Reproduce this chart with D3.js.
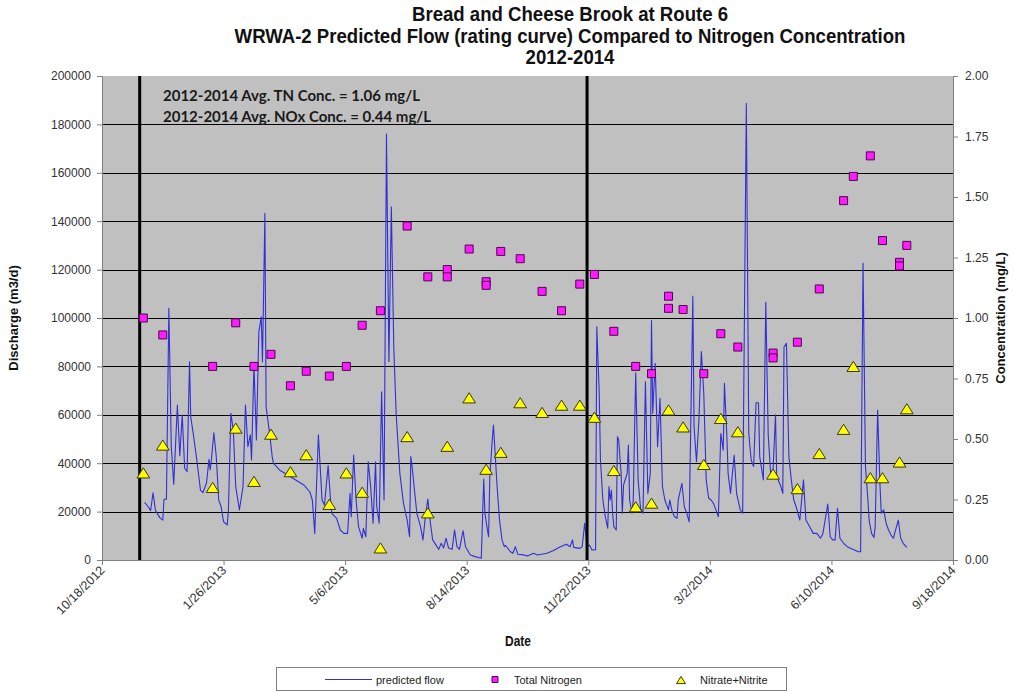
<!DOCTYPE html>
<html>
<head>
<meta charset="utf-8">
<script src="https://cdn.jsdelivr.net/npm/d3@7"></script>
<style>
  body { margin: 0; background: #fff; }
  svg { display: block; font-family: "Liberation Sans", Arial, sans-serif; }
</style>
</head>
<body>
<svg id="chart" width="1013" height="692"></svg>
<script>
// Dates are spreadsheet serial numbers (days since 12/30/1899).
const xTickSerials = [41200, 41300, 41400, 41500, 41600, 41700, 41800, 41900];
const dischargeTicks = [0, 20000, 40000, 60000, 80000, 100000, 120000, 140000, 160000, 180000, 200000];
const concTicks = [0, 0.25, 0.5, 0.75, 1.0, 1.25, 1.5, 1.75, 2.0];

// Start of each sampling year
const periodMarkers = [41231, 41599];

// Predicted flow (rating curve), m3/d
const flowSerial = [
  41235,41238,41240,41242,41244,41248,41250,41251,41253,41255,41257,41259,41262,41264,41266,41268,41270,41272,41273,41275,
  41278,41281,41283,41286,41288,41289,41290,41292,41294,41296,41298,41300,41303,41304,41306,41308,41310,41313,41316,41318,
  41320,41322,41323,41325,41327,41329,41331,41332,41334,41335,41338,41340,41341,41346,41355,41366,41371,41373,41375,41378,
  41381,41383,41386,41388,41389,41393,41396,41399,41402,41404,41405,41407,41409,41411,41414,41415,41417,41419,41421,41423,
  41425,41426,41428,41430,41432,41434,41436,41438,41440,41442,41445,41448,41451,41453,41454,41455,41457,41459,41462,41464,
  41466,41468,41470,41472,41477,41479,41481,41483,41485,41488,41490,41492,41494,41497,41499,41503,41507,41512,41514,41515,
  41517,41518,41519,41521,41522,41525,41527,41529,41531,41532,41536,41538,41540,41542,41547,41550,41555,41558,41566,41571,
  41577,41582,41585,41587,41588,41593,41595,41597,41599,41601,41603,41606,41607,41609,41610,41612,41614,41616,41617,41618,
  41619,41620,41621,41623,41624,41625,41627,41628,41629,41632,41633,41634,41636,41637,41639,41641,41643,41645,41647,41649,
  41651,41652,41653,41655,41657,41659,41661,41663,41666,41667,41669,41671,41673,41674,41677,41679,41681,41683,41686,41687,
  41689,41691,41693,41695,41697,41699,41701,41703,41707,41709,41711,41712,41714,41715,41717,41720,41722,41725,41727,41730,
  41732,41734,41736,41738,41740,41741,41744,41746,41748,41750,41752,41754,41755,41758,41760,41761,41763,41765,41767,41769,
  41771,41774,41777,41779,41782,41785,41788,41791,41793,41797,41799,41801,41803,41805,41807,41810,41813,41816,41819,41822,
  41824,41826,41828,41830,41831,41833,41835,41836,41838,41840,41841,41843,41845,41847,41849,41851,41852,41855,41857,41859,
  41862
];
const flowValues = [
  23800,22000,20400,27800,20400,17200,16500,25100,25100,104000,46800,31300,64000,43100,59900,37900,36500,81900,59200,52400,
  41300,28900,27800,31900,41600,37200,41600,52600,42700,24800,22000,15800,14500,20700,60600,53700,30300,20700,30300,64000,
  46800,51700,41300,80600,49600,94300,100500,81900,143300,63300,51700,42700,40000,37200,34400,31000,28100,24800,11000,51700,
  24800,22700,39000,24800,19300,17200,12400,11000,11000,27600,17900,43400,24800,13800,9000,13100,9600,40600,30300,15200,
  40600,22000,15200,69500,24800,176000,82000,146000,88000,60000,35800,23400,16500,9600,42700,39000,28900,19300,13800,8300,
  17900,25200,15800,8300,4400,6900,5000,9000,5000,4400,12400,5500,4400,12100,5500,2100,1400,700,33500,19300,
  12400,9600,34400,49600,55800,30300,16500,8300,5500,6000,3400,2800,5500,2400,2100,1700,2800,2100,2800,3800,
  5500,6500,5500,8300,5200,4800,5500,15200,5500,6200,4100,4300,96400,68900,41300,24800,17900,13100,30300,24800,
  28900,19300,13800,12400,51000,49600,35800,19300,31000,35800,47500,24800,19300,24800,77400,33100,21400,19300,73700,27500,
  35800,98900,60600,81300,46800,66800,30300,24800,20700,24800,20000,17900,17200,24800,31700,22000,19300,15800,109000,55100,
  40600,57900,86100,68900,33100,25500,24800,23400,17900,52300,45400,73000,51000,35800,27500,43400,27500,20700,19300,188700,
  52300,41300,38600,65000,65000,42700,33100,106500,51700,35800,37200,60000,34400,31000,27500,88000,89500,42700,33100,24800,
  22000,16500,33100,16500,13800,11000,11000,9000,11000,23100,9600,8300,8300,21400,9000,6900,5500,4800,4100,3400,
  3400,122600,38600,24800,16500,11000,9300,13800,62000,30300,19300,20700,15200,12400,10300,9000,11000,16500,9000,6900,
  5200
];

// Total Nitrogen, mg/L
const tnSerial = [41234,41250,41291,41310,41325,41339,41355,41368,41387,41401,41414,41429,41451,41468,41484,41484,41502,41516,41516,41528,
  41544,41562,41578,41593,41605,41621,41639,41652,41666,41666,41678,41695,41709,41723,41752,41752,41772,41790,41810,41818,
  41832,41842,41856,41856,41862];
const tnValues = [1.00,0.93,0.80,0.98,0.80,0.85,0.72,0.78,0.76,0.80,0.97,1.03,1.38,1.17,1.20,1.17,1.285,1.15,1.135,1.275,
  1.245,1.11,1.03,1.14,1.18,0.945,0.80,0.77,1.09,1.04,1.035,0.77,0.935,0.88,0.855,0.835,0.90,1.12,1.485,1.585,
  1.67,1.32,1.23,1.215,1.30];

// Nitrate+Nitrite, mg/L
const noxSerial = [41234,41250,41291,41310,41325,41339,41355,41368,41387,41401,41414,41429,41451,41468,41484,41502,41516,41528,41544,41562,
  41578,41593,41605,41621,41639,41652,41666,41678,41695,41709,41723,41752,41772,41790,41810,41818,41832,41842,41856,41862];
const noxValues = [0.36,0.475,0.30,0.545,0.325,0.52,0.365,0.435,0.23,0.36,0.28,0.05,0.51,0.195,0.47,0.67,0.375,0.445,0.65,0.61,
  0.64,0.64,0.59,0.37,0.22,0.235,0.62,0.55,0.395,0.585,0.53,0.355,0.295,0.44,0.54,0.80,0.34,0.34,0.405,0.625];

const titleLines = ["Bread and Cheese Brook at Route 6",
  "WRWA-2 Predicted Flow (rating curve) Compared to Nitrogen Concentration",
  "2012-2014"];
const noteLines = ["2012-2014 Avg. TN Conc. = 1.06 mg/L", "2012-2014 Avg. NOx Conc. = 0.44 mg/L"];

const fromSerial = s => new Date(Date.UTC(1899, 11, 30) + s * 864e5);

const plot = { left: 102, right: 953, top: 76, bottom: 560 };
const flowColor = "#3030d6";
const tnColor = "#ff1aff";
const noxColor = "#ffff00";
// Bold heading face, slightly condensed horizontally
const narrowScale = 0.93;

const svg = d3.select("#chart");

const x = d3.scaleUtc()
  .domain([fromSerial(xTickSerials[0]), fromSerial(xTickSerials[xTickSerials.length - 1])])
  .range([plot.left, plot.right]);
const yFlow = d3.scaleLinear().domain([0, 200000]).range([plot.bottom, plot.top]);
const yConc = d3.scaleLinear().domain([0, 2]).range([plot.bottom, plot.top]);

// Plot area
svg.append("rect")
  .attr("x", plot.left).attr("y", plot.top)
  .attr("width", plot.right - plot.left).attr("height", plot.bottom - plot.top)
  .attr("fill", "#c0c0c0");

// Horizontal gridlines at discharge ticks
svg.append("g").selectAll("line")
  .data(dischargeTicks.filter(d => d > 0 && d < 200000))
  .join("line")
  .attr("x1", plot.left).attr("x2", plot.right)
  .attr("y1", d => Math.round(yFlow(d)) + 0.5).attr("y2", d => Math.round(yFlow(d)) + 0.5)
  .attr("stroke", "#000").attr("stroke-width", 1);

// Flow line
const flowData = flowSerial.map((s, i) => ({ date: fromSerial(s), value: flowValues[i] }));
svg.append("path")
  .datum(flowData)
  .attr("fill", "none")
  .attr("stroke", flowColor)
  .attr("stroke-width", 1.1)
  .attr("stroke-linejoin", "round")
  .attr("d", d3.line().x(d => x(d.date)).y(d => yFlow(d.value)));

// Sampling-year divider lines
svg.append("g").selectAll("line")
  .data(periodMarkers)
  .join("line")
  .attr("x1", d => x(fromSerial(d))).attr("x2", d => x(fromSerial(d)))
  .attr("y1", plot.top).attr("y2", plot.bottom)
  .attr("stroke", "#000").attr("stroke-width", 3);

// Marker shapes
const squareSym = d3.symbol().type(d3.symbolSquare).size(64);
const triangleType = {
  draw(ctx, size) {
    const w = Math.sqrt(size) * 0.75, h = Math.sqrt(size) * 0.6;
    ctx.moveTo(0, -h);
    ctx.lineTo(w, h);
    ctx.lineTo(-w, h);
    ctx.closePath();
  }
};
const triSym = d3.symbol().type(triangleType).size(72);

const tnData = tnSerial.map((s, i) => ({ date: fromSerial(s), value: tnValues[i] }));
const noxData = noxSerial.map((s, i) => ({ date: fromSerial(s), value: noxValues[i] }));

svg.append("g").selectAll("path")
  .data(tnData)
  .join("path")
  .attr("transform", d => `translate(${x(d.date)},${yConc(d.value)})`)
  .attr("d", squareSym())
  .attr("fill", tnColor).attr("stroke", "#4a0a4a").attr("stroke-width", 1);

svg.append("g").selectAll("path")
  .data(noxData)
  .join("path")
  .attr("transform", d => `translate(${x(d.date)},${yConc(d.value)})`)
  .attr("d", triSym())
  .attr("fill", noxColor).attr("stroke", "#3a3a10").attr("stroke-width", 1);

// Axes
function styleAxis(g) {
  g.select(".domain").attr("stroke", "#808080");
  g.selectAll(".tick line").attr("stroke", "#808080");
  g.selectAll(".tick text").attr("fill", "#333").attr("font-size", 12)
    .attr("font-family", '"Liberation Sans", Arial, sans-serif');
}

svg.append("g")
  .attr("transform", `translate(${plot.left},0)`)
  .call(d3.axisLeft(yFlow).tickValues(dischargeTicks).tickSize(5).tickPadding(6).tickFormat(d3.format("d")))
  .call(styleAxis);

svg.append("g")
  .attr("transform", `translate(${plot.right},0)`)
  .call(d3.axisRight(yConc).tickValues(concTicks).tickSize(5).tickPadding(7).tickFormat(d3.format(".2f")))
  .call(styleAxis);

const xAxis = svg.append("g")
  .attr("transform", `translate(0,${plot.bottom})`)
  .call(d3.axisBottom(x).tickValues(xTickSerials.map(fromSerial)).tickSize(5)
    .tickFormat(d3.utcFormat("%-m/%-d/%Y")))
  .call(styleAxis);
xAxis.selectAll(".tick text")
  .attr("text-anchor", "end")
  .attr("dy", null)
  .attr("y", 0)
  .attr("font-size", 12.5)
  .attr("transform", "translate(3,11) rotate(-45)");

// Axis titles
svg.append("text")
  .attr("transform", `translate(18,${(plot.top + plot.bottom) / 2}) rotate(-90)`)
  .attr("text-anchor", "middle").attr("font-weight", "bold").attr("font-size", 13)
  .attr("fill", "#111")
  .text("Discharge (m3/d)");
svg.append("text")
  .attr("transform", `translate(1005,${(plot.top + plot.bottom) / 2}) rotate(-90)`)
  .attr("text-anchor", "middle").attr("font-weight", "bold").attr("font-size", 13)
  .attr("fill", "#111")
  .text("Concentration (mg/L)");
svg.append("text")
  .attr("transform", "translate(518,646) scale(0.85,1)")
  .attr("text-anchor", "middle").attr("font-weight", "bold").attr("font-size", 14)
  .attr("fill", "#111")
  .text("Date");

// Title
svg.append("g").selectAll("text")
  .data(titleLines)
  .join("text")
  .attr("transform", (d, i) => `translate(570,${21 + i * 21.5}) scale(${narrowScale},1)`)
  .attr("text-anchor", "middle")
  .attr("font-weight", "bold").attr("font-size", 20)
  .attr("fill", "#111")
  .text(d => d);

// Averages note
svg.append("g").selectAll("text")
  .data(noteLines)
  .join("text")
  .attr("x", 163).attr("y", (d, i) => 101 + i * 21)
  .attr("font-family", 'Lato, "Open Sans", sans-serif')
  .attr("font-weight", "bold").attr("font-size", 15)
  .attr("fill", "#1a1a1a")
  .text(d => d);

// Legend
const legend = svg.append("g");
legend.append("rect")
  .attr("x", 276.5).attr("y", 667.5).attr("width", 510).attr("height", 23)
  .attr("fill", "#fff").attr("stroke", "#808080");
legend.append("line")
  .attr("x1", 325).attr("x2", 372).attr("y1", 679.5).attr("y2", 679.5)
  .attr("stroke", flowColor).attr("stroke-width", 1.2);
legend.append("text").attr("x", 376).attr("y", 683.5).attr("font-size", 11).attr("fill", "#222").text("predicted flow");
legend.append("path")
  .attr("transform", "translate(495,679.5)")
  .attr("d", d3.symbol().type(d3.symbolSquare).size(36)())
  .attr("fill", tnColor).attr("stroke", "#4a0a4a");
legend.append("text").attr("x", 514).attr("y", 683.5).attr("font-size", 11).attr("fill", "#222").text("Total Nitrogen");
legend.append("path")
  .attr("transform", "translate(681,680)")
  .attr("d", d3.symbol().type(triangleType).size(36)())
  .attr("fill", noxColor).attr("stroke", "#3a3a10");
legend.append("text").attr("x", 700).attr("y", 683.5).attr("font-size", 11).attr("fill", "#222").text("Nitrate+Nitrite");
</script>
</body>
</html>
